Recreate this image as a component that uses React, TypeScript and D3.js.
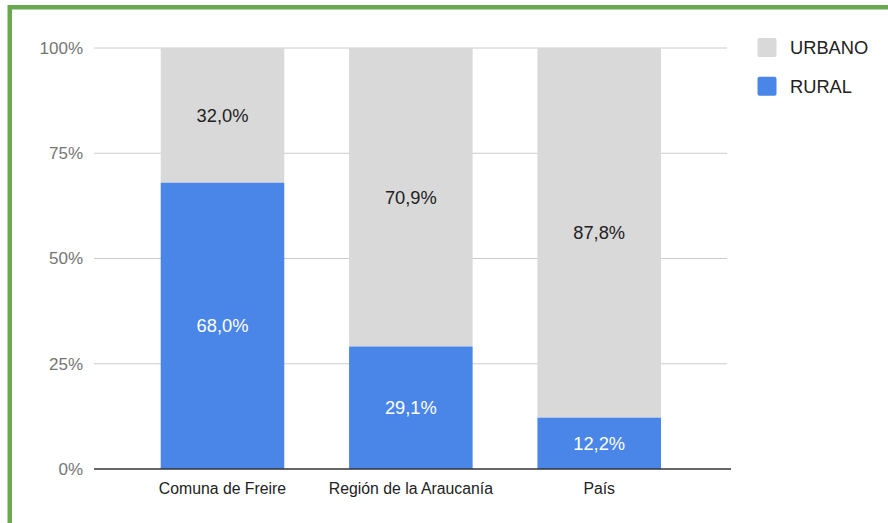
import React from "react";
import * as d3 from "d3";

const categories = ["Comuna de Freire", "Región de la Araucanía", "País"];
const rural = [68.0, 29.1, 12.2];
const urbano = [32.0, 70.9, 87.8];
const seriesNames = ["URBANO", "RURAL"];
const seriesColors = ["#d9d9d9", "#4a86e8"];
const yTicks = [0, 25, 50, 75, 100];

const W = 888;
const H = 523;
const FONT = "'Liberation Sans', Arial, sans-serif";

const fmt = (v: number) => v.toFixed(1).replace(".", ",") + "%";

export default function App() {
  const x = d3
    .scaleBand<string>()
    .domain(categories)
    .range([128.3, 693.4])
    .paddingInner(0.344)
    .paddingOuter(0.172);
  const y = d3.scaleLinear().domain([0, 100]).range([469, 48]);
  const gridX0 = 94;
  const gridX1 = 727;

  return (
    <svg
      width={W}
      height={H}
      style={{ position: "absolute", left: 0, top: 0, background: "#fff" }}
      fontFamily={FONT}
    >
      <rect x={0} y={0} width={W} height={H} fill="#fff" />
      {/* green frame */}
      <path d={`M 9.75 ${H + 10} L 9.75 7.25 L ${W + 10} 7.25`} fill="none" stroke="#6aa84f" strokeWidth={4.5} />

      {/* gridlines */}
      {yTicks.map((t) => (
        <g key={t}>
          {t !== 0 && (
            <line x1={gridX0} x2={gridX1} y1={y(t)} y2={y(t)} stroke="#cccccc" strokeWidth={1} />
          )}
          <text
            x={83}
            y={y(t)}
            dy="0.35em"
            textAnchor="end"
            fontSize={17}
            fill="#757575"
          >
            {t + "%"}
          </text>
        </g>
      ))}

      {/* bars */}
      {categories.map((c, i) => {
        const bx = x(c)!;
        const bw = x.bandwidth();
        const r = rural[i];
        const u = urbano[i];
        return (
          <g key={c}>
            <rect x={bx} y={y(100)} width={bw} height={y(r) - y(100)} fill={seriesColors[0]} />
            <rect x={bx} y={y(r)} width={bw} height={y(0) - y(r)} fill={seriesColors[1]} />
            <text
              x={bx + bw / 2}
              y={(y(r) + y(r + u)) / 2}
              dy="0.35em"
              textAnchor="middle"
              fontSize={18.3}
              fill="#222"
            >
              {fmt(u)}
            </text>
            <text
              x={bx + bw / 2}
              y={(y(0) + y(r)) / 2}
              dy="0.35em"
              textAnchor="middle"
              fontSize={18.3}
              fill="#ffffff"
            >
              {fmt(r)}
            </text>
            <text
              x={bx + bw / 2}
              y={493.5}
              textAnchor="middle"
              fontSize={15.8}
              fill="#222"
            >
              {c}
            </text>
          </g>
        );
      })}

      {/* baseline */}
      <line x1={gridX0} x2={731} y1={y(0)} y2={y(0)} stroke="#333333" strokeWidth={1.6} />

      {/* legend */}
      {seriesNames.map((s, i) => (
        <g key={s} transform={`translate(757.5, ${38 + i * 38.8})`}>
          <rect x={0} y={0} width={19} height={19} rx={2} fill={seriesColors[i]} />
          <text x={32.5} y={9.5} dy="0.35em" fontSize={18.3} fill="#222">
            {s}
          </text>
        </g>
      ))}
    </svg>
  );
}
